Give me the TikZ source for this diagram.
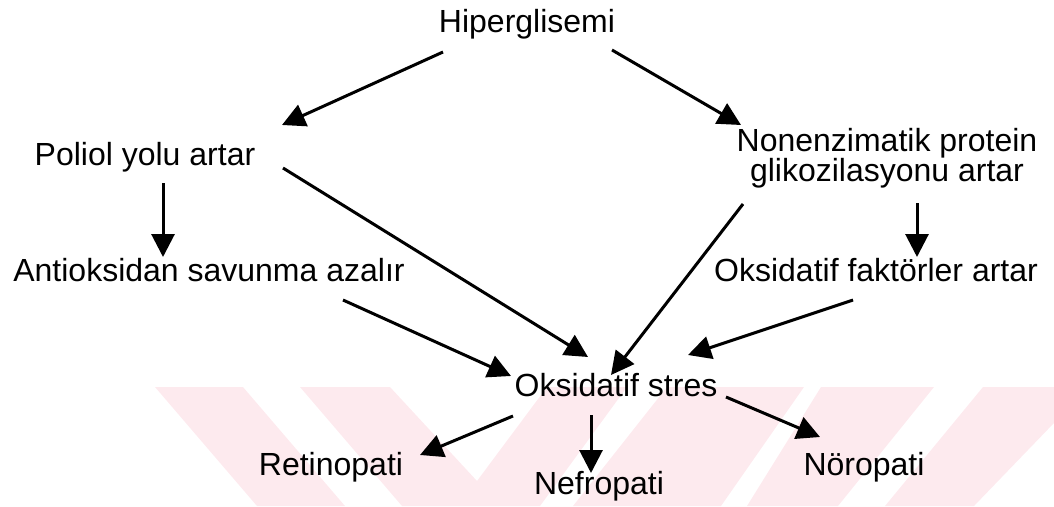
\documentclass[tikz,border=0pt]{standalone}
\usepackage{fontspec}
\setmainfont{Liberation Sans}
\usepackage{tikz}
\usetikzlibrary{arrows.meta,calc}
\definecolor{wmpink}{RGB}{253,234,238}

\begin{document}
\begin{tikzpicture}[x=1pt,y=-1pt,>={Triangle[length=23pt,width=23pt]},
    lbl/.style={font=\fontsize{32}{30}\selectfont,inner sep=0pt,anchor=base},
    arr/.style={->,line width=3pt}]
  \useasboundingbox (0,0) rectangle (1054,506);
  % faint watermark bands behind the lower part
  \fill[wmpink] (155,387)--(243,387)--(345,506)--(257,506)--cycle;
  \fill[wmpink] (300,387)--(390,387)--(477,481)--(547,387)--(627,387)
    --(540,506)--(402,506)--cycle;
  \fill[wmpink] (667,387)--(804,387)--(721,506)--(573,506)--cycle;
  \fill[wmpink] (821,387)--(934,387)--(838,506)--(747,506)--cycle;
  \fill[wmpink] (983,387)--(1054,387)--(1054,423)--(974,506)--(885,506)--cycle;
  % labels
  \node[lbl] (hiper) at (527,32) {Hiperglisemi};
  \node[lbl] (poliol) at (145,165) {Poliol yolu artar};
  \node[lbl,anchor=center,align=center] (nonenz) at (887,158)
    {Nonenzimatik protein\\glikozilasyonu artar};
  \node[lbl] (antiok) at (209,281) {Antioksidan savunma azalır};
  \node[lbl] (faktor) at (876,281) {Oksidatif faktörler artar};
  \node[lbl] (oks) at (616,396) {Oksidatif stres};
  \node[lbl] (retino) at (331,475) {Retinopati};
  \node[lbl] (nefro) at (599,494) {Nefropati};
  \node[lbl] (noro) at (864,475) {Nöropati};
  % upper arrows
  \draw[arr] ($(hiper.base)+(-84,20)$) -- ($(poliol.base)+(137,-40)$);
  \draw[arr] ($(hiper.base)+(85,18)$) -- ($(nonenz.center)+(-146,-33)$);
  \draw[arr] ($(poliol.base)+(18,18)$) -- ($(antiok.base)+(-46,-24)$);
  \draw[arr] ($(nonenz.center)+(30,45)$) -- ($(faktor.base)+(41,-24)$);
  % into oksidatif stres
  \draw[arr] ($(poliol.base)+(138,3)$) -- ($(oks.base)+(-28,-39)$);
  \draw[arr] ($(nonenz.center)+(-144,46)$) -- ($(oks.base)+(-5,-21)$);
  \draw[arr] ($(antiok.base)+(134,19)$) -- ($(oks.base)+(-105,-20)$);
  \draw[arr] ($(faktor.base)+(-23,19)$) -- ($(oks.base)+(72,-41)$);
  % complications
  \draw[arr] ($(oks.base)+(-103,20)$) -- ($(retino.base)+(89,-20)$);
  \draw[arr] ($(oks.base)+(-25,19)$) -- ($(nefro.base)+(-8,-21)$);
  \draw[arr] ($(oks.base)+(110,1)$) -- ($(noro.base)+(-44,-38)$);
\end{tikzpicture}
\end{document}
